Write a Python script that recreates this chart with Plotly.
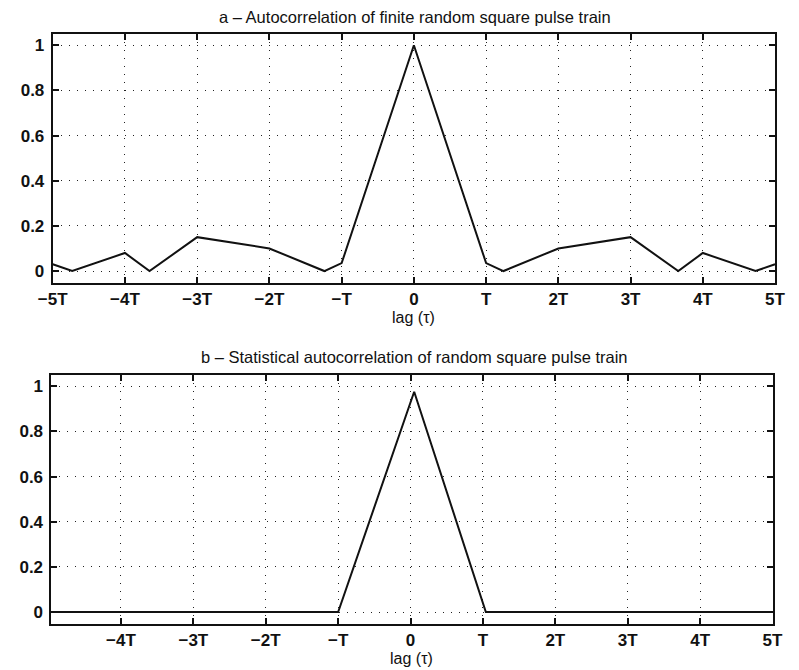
import plotly.graph_objects as go

# ---- data (lag in units of T) ----
lag_a = [-5, -4.73, -4, -3.66, -3, -2, -1.24, -1, 0, 1, 1.24, 2, 3, 3.66, 4, 4.73, 5]
acf_a = [0.03, 0.0, 0.08, 0.0, 0.15, 0.10, 0.0, 0.035, 1.0, 0.035, 0.0, 0.10, 0.15, 0.0, 0.08, 0.0, 0.03]

lag_b = [-4.96, -1.0, 0.05, 1.04, 5]
acf_b = [0.0, 0.0, 0.976, 0.0, 0.0]

x_tick_vals = [-5, -4, -3, -2, -1, 0, 1, 2, 3, 4, 5]
x_tick_text = ["\u22125T", "\u22124T", "\u22123T", "\u22122T", "\u2212T", "0", "T", "2T", "3T", "4T", "5T"]
y_tick_vals = [0, 0.2, 0.4, 0.6, 0.8, 1]
y_tick_text = ["0", "0.2", "0.4", "0.6", "0.8", "1"]

title_a = "a \u2013 Autocorrelation of finite random square pulse train"
title_b = "b \u2013 Statistical autocorrelation of random square pulse train"
x_label = "lag (\u03c4)"

W, H = 799, 670
FONT = "Liberation Sans, Arial, Helvetica, sans-serif"

fig = go.Figure()
line_style = dict(color="#111111", width=2)
fig.add_trace(go.Scatter(x=lag_a, y=acf_a, mode="lines", line=line_style, xaxis="x", yaxis="y", hoverinfo="skip"))
fig.add_trace(go.Scatter(x=lag_b, y=acf_b, mode="lines", line=line_style, xaxis="x2", yaxis="y2", hoverinfo="skip"))

tickfont = dict(family=FONT, size=17, color="#111111", weight="bold")

def xaxis(domain, anchor, rng):
    return dict(domain=domain, anchor=anchor, range=rng,
                tickmode="array", tickvals=x_tick_vals, ticktext=x_tick_text,
                showline=True, linecolor="#111111", linewidth=2, mirror="ticks",
                ticks="inside", ticklen=6, tickwidth=1.5, tickcolor="#111111",
                showgrid=True, gridcolor="#222222", gridwidth=1, griddash="1px,7px",
                zeroline=False, tickfont=tickfont, ticklabelstandoff=0)

def yaxis(domain, anchor):
    return dict(domain=domain, anchor=anchor, range=[-0.053, 1.05],
                tickmode="array", tickvals=y_tick_vals, ticktext=y_tick_text,
                showline=True, linecolor="#111111", linewidth=2, mirror="ticks",
                ticks="inside", ticklen=6, tickwidth=1.5, tickcolor="#111111",
                showgrid=True, gridcolor="#222222", gridwidth=1, griddash="1px,7px",
                zeroline=False, tickfont=tickfont, ticklabelstandoff=3)

fig.update_layout(
    width=W, height=H,
    margin=dict(l=0, r=0, t=0, b=0),
    paper_bgcolor="white", plot_bgcolor="white",
    showlegend=False,
    xaxis=xaxis([39 / W, 785.6 / W], "y", [-5, 5]),
    yaxis=yaxis([1 - 283 / H, 1 - 34 / H], "x"),
    xaxis2=xaxis([37.7 / W, 783 / W], "y2", [-4.96, 5]),
    yaxis2=yaxis([1 - 624 / H, 1 - 375 / H], "x2"),
)

def ann(text, xpx, ypx, size=16):
    return dict(text=text, x=xpx / W, y=1 - ypx / H, xref="paper", yref="paper",
                xanchor="center", yanchor="middle", showarrow=False,
                font=dict(family=FONT, size=size, color="#111111"))

fig.update_layout(annotations=[
    ann(title_a, 413, 17, 16.5),
    ann(x_label, 412, 317),
    ann(title_b, 413, 357, 16.5),
    ann(x_label, 410, 658),
])

fig.write_html("out.html")
